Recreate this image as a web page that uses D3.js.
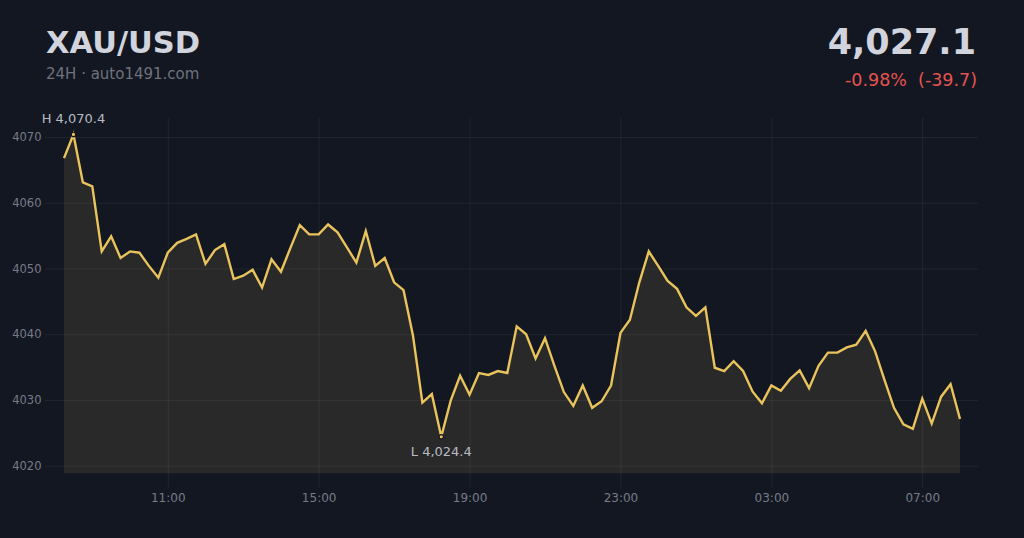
<!DOCTYPE html>
<html>
<head>
<meta charset="utf-8">
<script src="https://cdn.jsdelivr.net/npm/d3@7/dist/d3.min.js"></script>
<style>
  html, body { margin: 0; padding: 0; background: #131722; }
  svg { display: block; }
  text { font-family: "DejaVu Sans", sans-serif; }
</style>
</head>
<body>
<svg id="chart" width="1024" height="538"></svg>
<script>
// ---- data ----
const symbol = "XAU/USD";
const subtitle = "24H · auto1491.com";
const startTime = "2025-01-01T08:15:00Z";
const stepMinutes = 15;
const prices = [
  4066.8, 4070.4, 4063.1, 4062.5, 4052.6, 4054.9, 4051.6, 4052.6, 4052.4, 4050.4,
  4048.6, 4052.4, 4053.9, 4054.5, 4055.2, 4050.7, 4052.8, 4053.7, 4048.4, 4048.9,
  4049.8, 4047.1, 4051.4, 4049.5, 4053.1, 4056.6, 4055.2, 4055.2, 4056.7, 4055.5,
  4053.2, 4050.9, 4055.7, 4050.4, 4051.6, 4047.9, 4046.7, 4039.8, 4029.6, 4030.9,
  4024.4, 4029.9, 4033.7, 4030.8, 4034.1, 4033.8, 4034.4, 4034.1, 4041.2, 4040.0,
  4036.3, 4039.4, 4035.2, 4031.2, 4029.1, 4032.2, 4028.8, 4029.8, 4032.2, 4040.2,
  4042.2, 4047.9, 4052.6, 4050.4, 4048.1, 4046.9, 4044.1, 4042.8, 4044.1, 4034.9,
  4034.4, 4035.9, 4034.4, 4031.3, 4029.5, 4032.2, 4031.4, 4033.2, 4034.5, 4031.8,
  4035.2, 4037.2, 4037.2, 4038.0, 4038.4, 4040.5, 4037.4, 4033.0, 4028.8, 4026.3,
  4025.6, 4030.2, 4026.4, 4030.5, 4032.4, 4027.1
];
const xTickLabels = ["2025-01-01T11:00:00Z", "2025-01-01T15:00:00Z", "2025-01-01T19:00:00Z",
                     "2025-01-01T23:00:00Z", "2025-01-02T03:00:00Z", "2025-01-02T07:00:00Z"];
const yTickValues = [4020, 4030, 4040, 4050, 4060, 4070];
const yDomain = [4018.84, 4072.9];

// ---- derived ----
const t0 = new Date(startTime).getTime();
const data = prices.map((v, i) => ({ t: new Date(t0 + i * stepMinutes * 60000), v }));

const svg = d3.select("#chart");
const C = {
  bg: "#131722", grid: "rgba(255,255,255,0.06)", tick: "#787b86", fill: "#29292a",
  title: "#d1d4dc", sub: "#6f727d", line: "#e9c35b", red: "#e5534f", hl: "#b8bbc4"
};
const hy = s => s.replace(/\u2212/g, "-");

const x = d3.scaleTime().domain(d3.extent(data, d => d.t)).range([64, 960]);
const y = d3.scaleLinear().domain(yDomain).range([473.3, 118]);

// area
const area = d3.area().x(d => x(d.t)).y0(y(yDomain[0])).y1(d => y(d.v));
svg.append("path").datum(data).attr("d", area).attr("fill", C.fill);

// grid + axes
const gx = svg.append("g").attr("transform", "translate(0,488)")
  .call(d3.axisBottom(x).tickValues(xTickLabels.map(s => new Date(s)))
    .tickFormat(d3.utcFormat("%H:%M")).tickSizeInner(-370).tickSizeOuter(0).tickPadding(5.5));
gx.select(".domain").remove();
gx.selectAll("line").attr("stroke", C.grid);
gx.selectAll("text").attr("fill", C.tick).attr("font-size", 12);

const gy = svg.append("g").attr("transform", "translate(45,0)")
  .call(d3.axisLeft(y).tickValues(yTickValues).tickFormat(d3.format("d"))
    .tickSizeInner(-933).tickSizeOuter(0).tickPadding(3.5));
gy.select(".domain").remove();
gy.selectAll("line").attr("stroke", C.grid);
gy.selectAll("text").attr("fill", C.tick).attr("font-size", 11.5);

// line
const line = d3.line().x(d => x(d.t)).y(d => y(d.v));
svg.append("path").datum(data).attr("d", line).attr("fill", "none")
  .attr("stroke", C.line).attr("stroke-width", 2.4).attr("stroke-linejoin", "miter");

// high / low markers
const fmt = d3.format(",.1f");
const hi = data.reduce((a, b) => (b.v > a.v ? b : a));
const lo = data.reduce((a, b) => (b.v < a.v ? b : a));
[hi, lo].forEach(p => {
  svg.append("circle").attr("cx", x(p.t)).attr("cy", y(p.v)).attr("r", 2.2)
    .attr("fill", C.line).attr("stroke", C.bg).attr("stroke-width", 1.2);
});
svg.append("text").attr("x", x(hi.t)).attr("y", y(hi.v) - 11.5).attr("text-anchor", "middle")
  .attr("fill", C.hl).attr("font-size", 13).text("H " + fmt(hi.v));
svg.append("text").attr("x", x(lo.t)).attr("y", y(lo.v) + 19.5).attr("text-anchor", "middle")
  .attr("fill", C.hl).attr("font-size", 13).text("L " + fmt(lo.v));

// header
svg.append("text").attr("x", 46).attr("y", 53).attr("fill", C.title)
  .attr("font-size", 30.5).attr("font-weight", "bold").text(symbol);
svg.append("text").attr("x", 46).attr("y", 79).attr("fill", C.sub)
  .attr("font-size", 15).text(subtitle);

const last = prices[prices.length - 1], first = prices[0];
const chg = last - first, pct = chg / first * 100;
svg.append("text").attr("x", 976).attr("y", 54).attr("text-anchor", "end").attr("fill", C.title)
  .attr("font-size", 35).attr("font-weight", "bold").text(fmt(last));
svg.append("text").attr("x", 977).attr("y", 86).attr("text-anchor", "end").attr("fill", C.red)
  .attr("font-size", 17.5).style("white-space", "pre")
  .text(hy(d3.format(".2f")(pct)) + "%  (" + hy(d3.format(".1f")(chg)) + ")");
</script>
</body>
</html>
